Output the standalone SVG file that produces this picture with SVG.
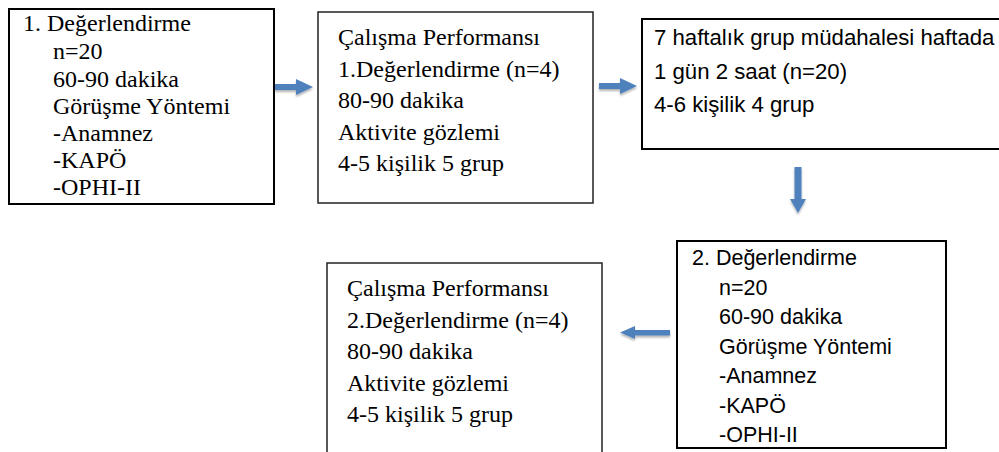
<svg xmlns="http://www.w3.org/2000/svg" width="999" height="452" viewBox="0 0 999 452">
<defs>
<style>
.bx{fill:#fff;stroke:#000;stroke-width:2}
.bt{fill:#fff;stroke:#222;stroke-width:1.5}
.sf{font-family:"Liberation Serif","Times New Roman",serif;font-size:24px;fill:#000}
.ss{font-family:"Liberation Sans",Arial,sans-serif;font-size:21.5px;fill:#000}
.s3{font-size:22.2px}
.ar{fill:#4f81bd;filter:url(#sh)}
</style>
<filter id="sh" x="-30%" y="-30%" width="160%" height="180%">
<feDropShadow dx="0" dy="2" stdDeviation="1.2" flood-color="#000" flood-opacity="0.3"/>
</filter>
</defs>
<rect width="999" height="452" fill="#fff"/>
<g id="n1">
<rect class="bx" x="9" y="9" width="265" height="195"/>
<text class="sf" x="23" y="31">1. Değerlendirme</text>
<text class="sf" x="53" y="59">n=20</text>
<text class="sf" x="53" y="86.5">60-90 dakika</text>
<text class="sf" x="53" y="114">Görüşme Yöntemi</text>
<text class="sf" x="53" y="141">-Anamnez</text>
<text class="sf" x="53" y="168">-KAPÖ</text>
<text class="sf" x="53" y="195">-OPHI-II</text>
</g>
<g id="n2">
<rect class="bt" x="318" y="12" width="275" height="191"/>
<text class="sf" x="338" y="45">Çalışma Performansı</text>
<text class="sf" x="338" y="76.5">1.Değerlendirme (n=4)</text>
<text class="sf" x="338" y="108">80-90 dakika</text>
<text class="sf" x="338" y="139.5">Aktivite gözlemi</text>
<text class="sf" x="338" y="171">4-5 kişilik 5 grup</text>
</g>
<g id="n3">
<rect class="bx" x="642" y="19" width="370" height="130"/>
<text class="ss s3" x="654" y="44.5">7 haftalık grup müdahalesi haftada</text>
<text class="ss s3" x="654" y="78.5">1 gün 2 saat (n=20)</text>
<text class="ss s3" x="654" y="112">4-6 kişilik 4 grup</text>
</g>
<g id="n4">
<rect class="bx" x="677" y="241" width="269" height="207"/>
<text class="ss" x="692" y="265">2. Değerlendirme</text>
<text class="ss" x="719" y="294.5">n=20</text>
<text class="ss" x="719" y="324">60-90 dakika</text>
<text class="ss" x="719" y="353.5">Görüşme Yöntemi</text>
<text class="ss" x="719" y="383">-Anamnez</text>
<text class="ss" x="719" y="412.5">-KAPÖ</text>
<text class="ss" x="719" y="442">-OPHI-II</text>
</g>
<g id="n5">
<rect class="bt" x="327" y="263" width="275" height="200"/>
<text class="sf" x="347" y="296">Çalışma Performansı</text>
<text class="sf" x="347" y="327.5">2.Değerlendirme (n=4)</text>
<text class="sf" x="347" y="359">80-90 dakika</text>
<text class="sf" x="347" y="390.5">Aktivite gözlemi</text>
<text class="sf" x="347" y="422">4-5 kişilik 5 grup</text>
</g>
<g id="connectors">
<path class="ar" d="M275 84 H296 V79 L313 87 L296 95 V90 H275 Z"/>
<path class="ar" d="M599 83 H620 V78 L637 86 L620 94 V89 H599 Z"/>
<path class="ar" d="M794.5 167 V199 H790 L798 213 L806 199 H801.5 V167 Z"/>
<path class="ar" d="M670 330 V335.5 H635 V339 L620 332.5 L635 326 V330 Z"/>
</g>
</svg>
